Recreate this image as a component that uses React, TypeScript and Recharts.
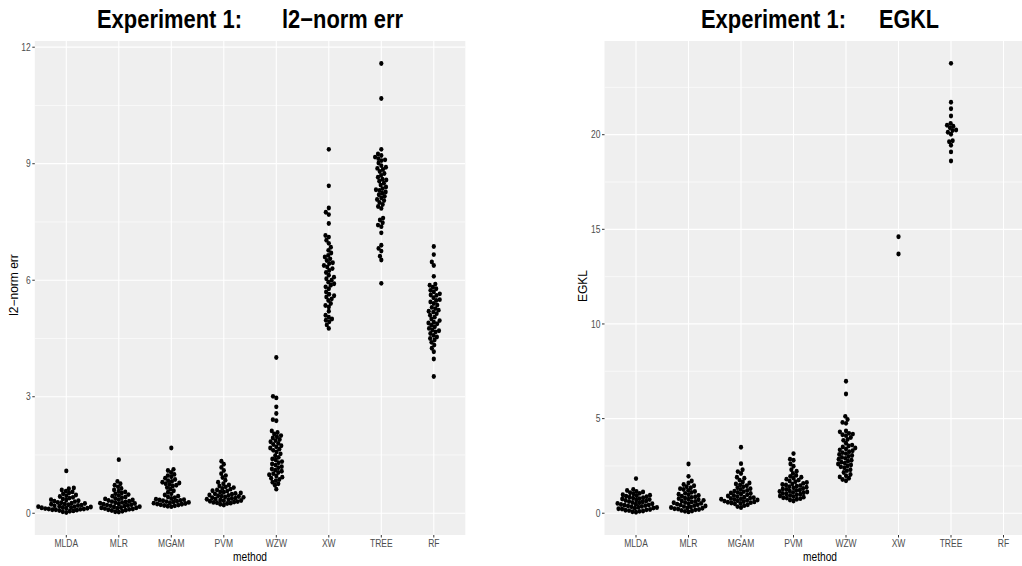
import React from 'react';
import { ScatterChart, Scatter, XAxis, YAxis, CartesianGrid, ReferenceLine } from 'recharts';

const methods = ['MLDA', 'MLR', 'MGAM', 'PVM', 'WZW', 'XW', 'TREE', 'RF'];

// Experiment 1: l2-norm err, one array per method
const l2Mlda = [1.09, 0.65, 0.63, 0.6, 0.57, 0.55, 0.52, 0.5, 0.47, 0.45, 0.43, 0.41, 0.39, 0.37, 0.35, 0.34, 0.32, 0.31, 0.3, 0.28, 0.27, 0.26, 0.25, 0.24, 0.23, 0.22, 0.21, 0.2, 0.19, 0.18, 0.17, 0.17, 0.16, 0.15, 0.15, 0.14, 0.13, 0.13, 0.12, 0.11, 0.11, 0.1, 0.09, 0.09, 0.08, 0.07, 0.06, 0.05, 0.04, 0.02];
const l2Mlr = [1.38, 0.82, 0.76, 0.72, 0.68, 0.64, 0.6, 0.57, 0.55, 0.52, 0.5, 0.48, 0.46, 0.44, 0.42, 0.4, 0.38, 0.37, 0.35, 0.34, 0.33, 0.31, 0.3, 0.29, 0.28, 0.27, 0.26, 0.25, 0.24, 0.23, 0.22, 0.21, 0.2, 0.19, 0.18, 0.17, 0.16, 0.15, 0.14, 0.14, 0.13, 0.12, 0.11, 0.1, 0.09, 0.08, 0.07, 0.05, 0.04, 0.03];
const l2Mgam = [1.68, 1.13, 1.1, 1.05, 1.0, 0.97, 0.94, 0.9, 0.87, 0.84, 0.82, 0.8, 0.78, 0.76, 0.74, 0.72, 0.7, 0.66, 0.62, 0.58, 0.54, 0.5, 0.47, 0.44, 0.42, 0.4, 0.38, 0.36, 0.35, 0.34, 0.33, 0.32, 0.31, 0.3, 0.29, 0.28, 0.27, 0.26, 0.25, 0.24, 0.23, 0.22, 0.21, 0.2, 0.19, 0.18, 0.17];
const l2Pvm = [1.34, 1.26, 1.18, 1.1, 1.02, 0.97, 0.92, 0.85, 0.8, 0.76, 0.73, 0.7, 0.68, 0.66, 0.64, 0.62, 0.6, 0.58, 0.57, 0.55, 0.54, 0.52, 0.51, 0.5, 0.49, 0.47, 0.46, 0.45, 0.44, 0.43, 0.42, 0.41, 0.4, 0.39, 0.38, 0.37, 0.36, 0.35, 0.34, 0.33, 0.32, 0.31, 0.3, 0.29, 0.28, 0.27, 0.26, 0.25, 0.23, 0.21];
const l2Wzw = [4.01, 3.01, 2.97, 2.74, 2.57, 2.41, 2.38, 2.12, 2.08, 2.04, 2.0, 1.97, 1.94, 1.9, 1.87, 1.84, 1.8, 1.77, 1.74, 1.71, 1.68, 1.65, 1.62, 1.58, 1.53, 1.48, 1.44, 1.4, 1.37, 1.33, 1.3, 1.27, 1.24, 1.2, 1.17, 1.14, 1.11, 1.08, 1.05, 1.02, 0.99, 0.96, 0.93, 0.9, 0.87, 0.84, 0.8, 0.76, 0.72, 0.62];
const l2Xw = [9.37, 8.43, 7.86, 7.75, 7.69, 7.46, 7.15, 7.11, 7.03, 6.95, 6.85, 6.77, 6.7, 6.64, 6.6, 6.55, 6.51, 6.45, 6.43, 6.38, 6.34, 6.3, 6.25, 6.2, 6.13, 6.08, 6.04, 6.0, 5.95, 5.91, 5.87, 5.83, 5.78, 5.7, 5.64, 5.6, 5.57, 5.52, 5.48, 5.4, 5.35, 5.31, 5.2, 5.1, 5.05, 5.0, 4.97, 4.93, 4.85, 4.76];
const l2Tree = [11.58, 10.68, 9.37, 9.25, 9.21, 9.17, 9.13, 9.1, 9.08, 9.02, 8.95, 8.91, 8.88, 8.85, 8.8, 8.75, 8.7, 8.65, 8.6, 8.58, 8.55, 8.5, 8.45, 8.4, 8.36, 8.33, 8.31, 8.27, 8.24, 8.2, 8.16, 8.12, 8.08, 8.05, 8.0, 7.95, 7.9, 7.85, 7.6, 7.55, 7.48, 7.42, 7.38, 7.22, 6.9, 6.82, 6.75, 6.62, 6.52, 5.92];
const l2Rf = [6.87, 6.66, 6.47, 6.38, 6.1, 5.9, 5.87, 5.82, 5.78, 5.74, 5.7, 5.65, 5.62, 5.61, 5.55, 5.5, 5.48, 5.44, 5.4, 5.36, 5.3, 5.27, 5.23, 5.2, 5.18, 5.14, 5.1, 5.05, 5.0, 4.96, 4.92, 4.9, 4.88, 4.84, 4.8, 4.76, 4.72, 4.7, 4.67, 4.63, 4.58, 4.54, 4.5, 4.46, 4.4, 4.33, 4.25, 4.16, 3.97, 3.52];

// Experiment 1: EGKL
const egMlda = [1.83, 1.25, 1.2, 1.15, 1.12, 1.08, 1.05, 1.02, 0.98, 0.95, 0.92, 0.9, 0.87, 0.85, 0.82, 0.8, 0.77, 0.75, 0.72, 0.7, 0.67, 0.65, 0.62, 0.6, 0.57, 0.55, 0.52, 0.5, 0.48, 0.46, 0.44, 0.42, 0.4, 0.38, 0.36, 0.34, 0.32, 0.3, 0.28, 0.26, 0.24, 0.22, 0.2, 0.18, 0.16, 0.14, 0.12, 0.1, 0.08, 0.05];
const egMlr = [2.6, 1.95, 1.7, 1.6, 1.52, 1.45, 1.4, 1.35, 1.3, 1.25, 1.2, 1.15, 1.1, 1.05, 1.0, 0.97, 0.94, 0.9, 0.87, 0.84, 0.8, 0.77, 0.74, 0.71, 0.68, 0.65, 0.62, 0.6, 0.57, 0.55, 0.52, 0.5, 0.48, 0.45, 0.43, 0.4, 0.38, 0.35, 0.33, 0.3, 0.28, 0.26, 0.24, 0.22, 0.2, 0.18, 0.15, 0.12, 0.1, 0.07];
const egMgam = [3.49, 2.62, 2.3, 2.2, 2.1, 1.9, 1.85, 1.75, 1.65, 1.6, 1.55, 1.5, 1.45, 1.4, 1.35, 1.3, 1.25, 1.2, 1.17, 1.14, 1.1, 1.07, 1.04, 1.0, 0.97, 0.94, 0.91, 0.88, 0.85, 0.82, 0.8, 0.78, 0.76, 0.74, 0.72, 0.7, 0.68, 0.66, 0.64, 0.62, 0.6, 0.58, 0.56, 0.54, 0.52, 0.5, 0.45, 0.4, 0.35, 0.3];
const egPvm = [3.15, 2.85, 2.8, 2.6, 2.48, 2.3, 2.22, 2.1, 2.0, 1.95, 1.9, 1.85, 1.8, 1.75, 1.7, 1.66, 1.62, 1.58, 1.55, 1.52, 1.49, 1.46, 1.43, 1.4, 1.37, 1.34, 1.31, 1.28, 1.25, 1.22, 1.2, 1.18, 1.15, 1.12, 1.1, 1.08, 1.05, 1.02, 1.0, 0.97, 0.94, 0.91, 0.88, 0.85, 0.82, 0.8, 0.77, 0.74, 0.7, 0.65];
const egWzw = [6.97, 6.3, 5.12, 4.95, 4.8, 4.75, 4.35, 4.3, 4.22, 4.18, 4.15, 4.1, 4.0, 3.9, 3.85, 3.7, 3.6, 3.55, 3.5, 3.45, 3.4, 3.35, 3.3, 3.25, 3.2, 3.15, 3.1, 3.05, 3.0, 2.95, 2.9, 2.85, 2.8, 2.75, 2.7, 2.65, 2.6, 2.55, 2.5, 2.45, 2.4, 2.3, 2.25, 2.15, 2.05, 1.98, 1.92, 1.85, 1.78, 1.72];
const egXw = [14.61, 13.7];
const egTree = [23.77, 21.71, 21.37, 20.99, 20.6, 20.5, 20.45, 20.37, 20.25, 20.22, 20.13, 20.02, 19.68, 19.63, 19.44, 19.09, 18.61];
const egRf: number[] = [];

const l2Groups = [l2Mlda, l2Mlr, l2Mgam, l2Pvm, l2Wzw, l2Xw, l2Tree, l2Rf];
const egGroups = [egMlda, egMlr, egMgam, egPvm, egWzw, egXw, egTree, egRf];

const l2Ticks = [0, 3, 6, 9, 12];
const l2Minor = [1.5, 4.5, 7.5, 10.5];
const egTicks = [0, 5, 10, 15, 20];
const egMinor = [2.5, 7.5, 12.5, 17.5, 22.5];

const PANEL_W = 430.5;
const PANEL_H = 494;
const X_DOMAIN: [number, number] = [0.4, 8.6];
const DOT_GAP = 4.2;
const SQUASH = 0.85; // the original picture is narrower than it is tall
const FONT = "'Liberation Sans', Arial, sans-serif";

// beeswarm offsets (px) — each point goes to the free spot closest to the centre line
function swarm(values: number[], pxPerY: number): number[] {
  const order = values.map((_, i) => i).sort((a, b) => values[a] - values[b]);
  const placed: { x: number; y: number }[] = [];
  const out = new Array(values.length).fill(0);
  for (const i of order) {
    const y = values[i] * pxPerY;
    const blocks: [number, number][] = [];
    for (const p of placed) {
      const dy = Math.abs(p.y - y);
      if (dy < DOT_GAP) {
        const dx = Math.sqrt(DOT_GAP * DOT_GAP - dy * dy);
        blocks.push([p.x - dx, p.x + dx]);
      }
    }
    const cands = [0];
    blocks.forEach(([a, b]) => cands.push(a, b));
    cands.sort((a, b) => Math.abs(a) - Math.abs(b));
    let best = 0;
    for (const c of cands) {
      if (blocks.every(([a, b]) => c <= a + 1e-6 || c >= b - 1e-6)) {
        best = c;
        break;
      }
    }
    placed.push({ x: best, y });
    out[i] = best;
  }
  return out;
}

function buildPoints(groups: number[][], yDomain: [number, number]) {
  const pxPerX = PANEL_W / (X_DOMAIN[1] - X_DOMAIN[0]);
  const pxPerY = PANEL_H / (yDomain[1] - yDomain[0]);
  const pts: { x: number; y: number }[] = [];
  groups.forEach((vals, k) => {
    const offs = swarm(vals, pxPerY);
    vals.forEach((v, i) => pts.push({ x: k + 1 + (offs[i] * SQUASH) / pxPerX, y: v }));
  });
  return pts;
}

const Dot = (props: any) => <ellipse cx={props.cx} cy={props.cy} rx={2.5 * SQUASH} ry={2.45} fill="#000000" />;

const XTick = (props: any) => {
  const { x, y, payload } = props;
  return (
    <text transform={`translate(${x},${y}) scale(${SQUASH},1)`} textAnchor="middle" dy="0.71em" fill="#4D4D4D" fontSize={10} fontFamily={FONT}>
      {methods[payload.value - 1]}
    </text>
  );
};

const YTick = (props: any) => {
  const { x, y, payload } = props;
  return (
    <text transform={`translate(${x},${y}) scale(${SQUASH},1)`} textAnchor="end" dy="0.355em" fill="#4D4D4D" fontSize={10} fontFamily={FONT}>
      {payload.value}
    </text>
  );
};

interface PanelProps {
  groups: number[][];
  yDomain: [number, number];
  ticks: number[];
  minor: number[];
  width: number;
  axisWidth: number;
}

const Panel: React.FC<PanelProps> = ({ groups, yDomain, ticks, minor, width, axisWidth }) => {
  const data = buildPoints(groups, yDomain);
  return (
    <ScatterChart width={width} height={566} margin={{ top: 41, right: width - axisWidth - PANEL_W, bottom: 0, left: 0 }}>
      <CartesianGrid horizontal={false} vertical={false} fill="#EFEFEF" fillOpacity={1} stroke="none" />
      {minor.map((v) => (
        <ReferenceLine key={'m' + v} y={v} stroke="#FFFFFF" strokeWidth={0.6} ifOverflow="hidden" />
      ))}
      {ticks.map((v) => (
        <ReferenceLine key={'t' + v} y={v} stroke="#FFFFFF" strokeWidth={1.2} ifOverflow="hidden" />
      ))}
      {methods.map((m, i) => (
        <ReferenceLine key={m} x={i + 1} stroke="#FFFFFF" strokeWidth={1.1} />
      ))}
      <XAxis
        type="number"
        dataKey="x"
        domain={X_DOMAIN}
        ticks={[1, 2, 3, 4, 5, 6, 7, 8]}
        interval={0}
        allowDataOverflow
        height={31}
        axisLine={false}
        tickSize={2.5}
        tickMargin={2}
        tickLine={{ stroke: '#333333' }}
        tick={<XTick />}
      />
      <YAxis
        type="number"
        dataKey="y"
        domain={yDomain}
        ticks={ticks}
        allowDataOverflow
        width={axisWidth}
        axisLine={false}
        tickSize={2.5}
        tickMargin={1.5}
        tickLine={{ stroke: '#333333' }}
        tick={<YTick />}
      />
      <Scatter data={data} shape={Dot} isAnimationActive={false} />
    </ScatterChart>
  );
};

export default function App() {
  return (
    <div style={{ position: 'absolute', left: 0, top: 0, width: 1022, height: 566, overflow: 'hidden', background: '#FFFFFF' }}>
      <div style={{ position: 'absolute', left: 0, top: 0 }}>
        <Panel groups={l2Groups} yDomain={[-0.56, 12.16]} ticks={l2Ticks} minor={l2Minor} width={511} axisWidth={34.8} />
      </div>
      <div style={{ position: 'absolute', left: 511, top: 0 }}>
        <Panel groups={egGroups} yDomain={[-1.15, 24.95]} ticks={egTicks} minor={egMinor} width={540} axisWidth={93.5} />
      </div>
      <svg width={1022} height={566} style={{ position: 'absolute', left: 0, top: 0, pointerEvents: 'none' }}>
        <g fontFamily={FONT} fontWeight="bold" fontSize={25} fill="#000000">
          <text x={97} y={28} textLength={145} lengthAdjust="spacingAndGlyphs">Experiment 1:</text>
          <text x={282} y={28} textLength={121} lengthAdjust="spacingAndGlyphs">l2−norm err</text>
          <text x={701} y={28} textLength={145} lengthAdjust="spacingAndGlyphs">Experiment 1:</text>
          <text x={879} y={28} textLength={60} lengthAdjust="spacingAndGlyphs">EGKL</text>
        </g>
        <g fontFamily={FONT} fontSize={12} fill="#000000" textAnchor="middle">
          <text transform={`translate(250,561) scale(${SQUASH},1)`}>method</text>
          <text transform={`translate(820,561) scale(${SQUASH},1)`}>method</text>
          <text transform="translate(18,285) rotate(-90)">l2−norm err</text>
          <text transform="translate(587,286) rotate(-90)">EGKL</text>
        </g>
      </svg>
    </div>
  );
}
